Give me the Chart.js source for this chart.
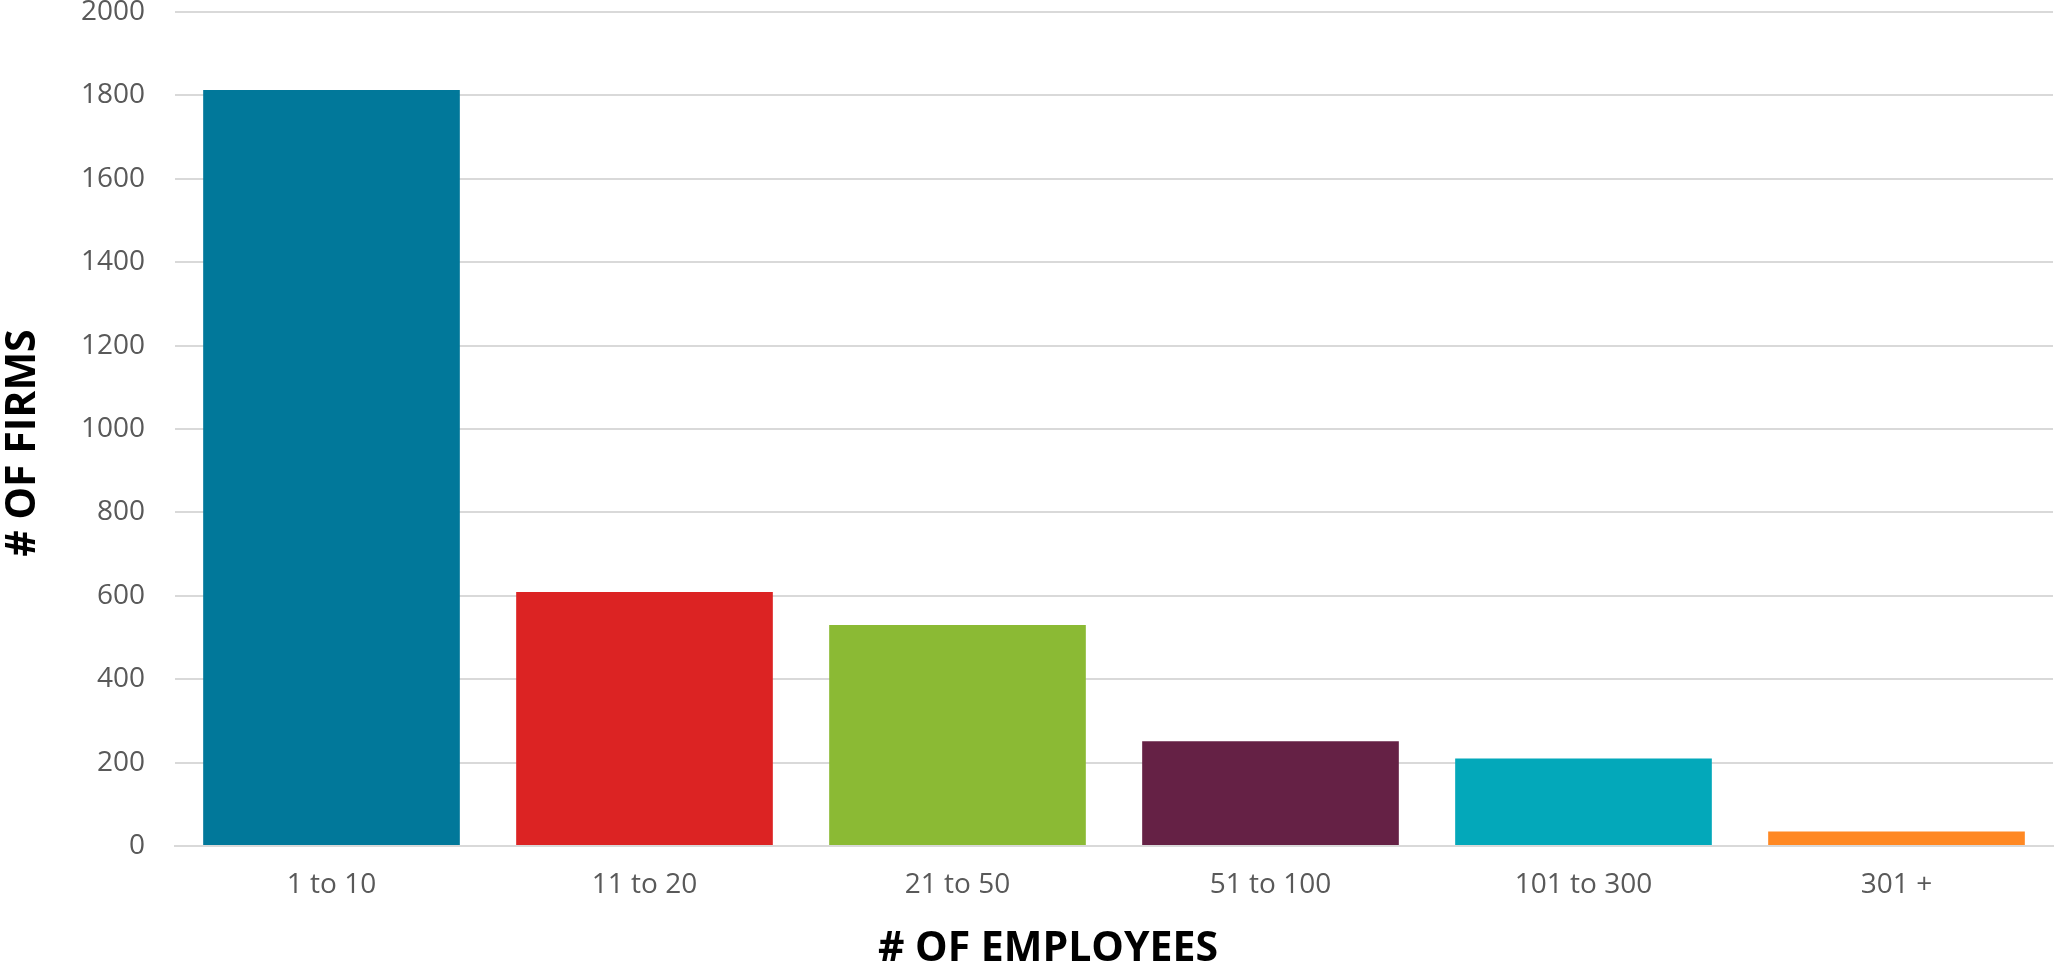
<!DOCTYPE html>
<html>
<head>
<meta charset="utf-8">
<script src="https://cdn.jsdelivr.net/npm/chart.js@4.4.0/dist/chart.umd.min.js"></script>
<style>
  html, body { margin: 0; padding: 0; background: #ffffff; }
  #wrap { width: 2055px; height: 971px; position: relative; }
</style>
</head>
<body>
<div id="wrap"><canvas id="c" width="2055" height="971"></canvas></div>
<script>
const categories = ["1 to 10", "11 to 20", "21 to 50", "51 to 100", "101 to 300", "301 +"];
const firms = [1813, 609, 530, 251, 210, 35];
const barColors = ["#01789A", "#DC2323", "#8BBA34", "#652145", "#03A8BA", "#FF8823"];
const yTicks = [0, 200, 400, 600, 800, 1000, 1200, 1400, 1600, 1800, 2000];
const xTitle = "# OF EMPLOYEES";
const yTitle = "# OF FIRMS";

const titlePlugin = {
  id: 'axisTitles',
  afterDraw(chart) {
    const ctx = chart.ctx;
    ctx.save();
    ctx.fillStyle = '#000000';
    ctx.font = 'bold 41px "Open Sans"';
    ctx.textAlign = 'center';
    ctx.textBaseline = 'middle';
    ctx.fillText(xTitle, 1048, 949);
    ctx.translate(23, 443);
    ctx.rotate(-Math.PI / 2);
    ctx.fillText(yTitle, 0, 0);
    ctx.restore();
  }
};

new Chart(document.getElementById('c'), {
  type: 'bar',
  data: {
    labels: categories,
    datasets: [{
      data: firms,
      backgroundColor: barColors,
      borderWidth: 0,
      barPercentage: 0.82,
      categoryPercentage: 1.0
    }]
  },
  options: {
    responsive: false,
    animation: false,
    layout: { padding: { top: 12, right: 2, left: 0, bottom: 0 } },
    plugins: { legend: { display: false }, tooltip: { enabled: false } },
    scales: {
      x: {
        grid: { display: false },
        border: { display: true, color: '#d9d9d9', width: 2 },
        ticks: { color: '#595959', font: { family: '"Open Sans"', size: 28 }, padding: 14 },
        afterFit(scale) { scale.height = 125; scale.paddingLeft = 0; scale.paddingRight = 0; }
      },
      y: {
        min: 0, max: 2000,
        afterBuildTicks(scale) { scale.ticks = yTicks.map(v => ({ value: v })); },
        grid: { color: '#d9d9d9', lineWidth: 2, drawTicks: false },
        border: { display: false },
        ticks: {
          color: '#595959', font: { family: '"Open Sans"', size: 28 }, padding: 30,
          callback: (v) => String(v)
        },
        afterFit(scale) { scale.width = 175; scale.paddingTop = 0; scale.paddingBottom = 0; }
      }
    }
  },
  plugins: [titlePlugin]
});
</script>
</body>
</html>
